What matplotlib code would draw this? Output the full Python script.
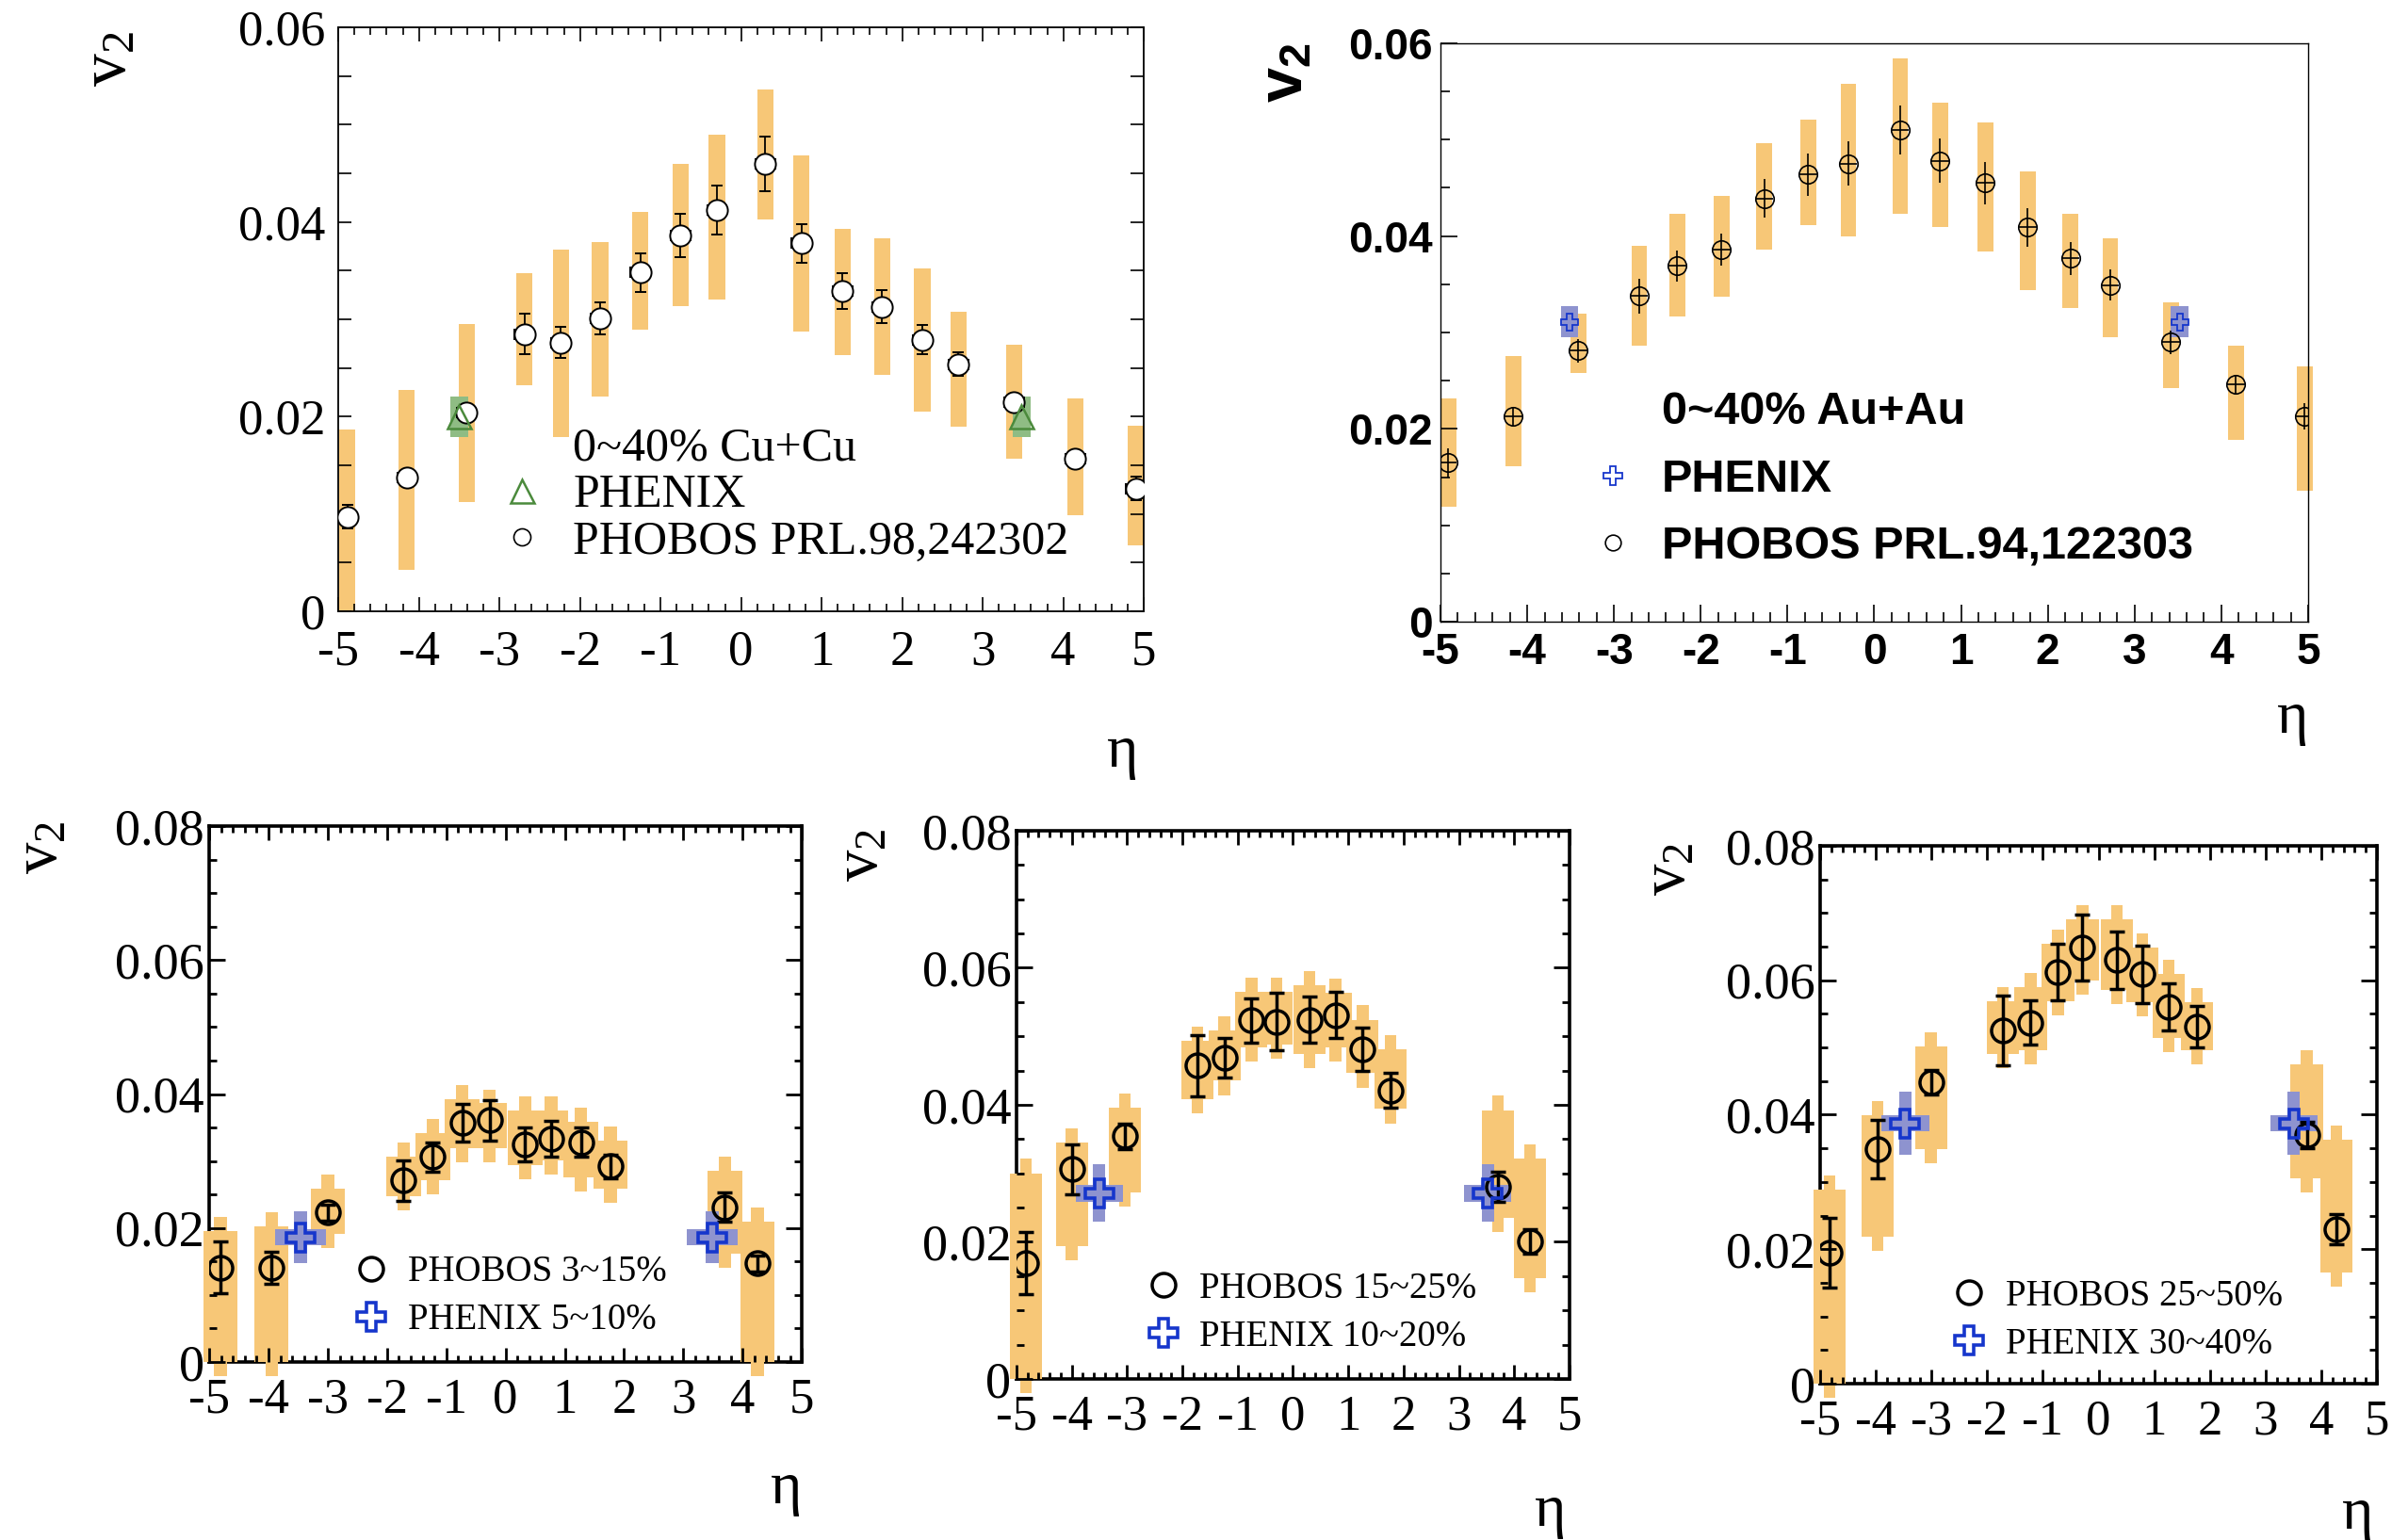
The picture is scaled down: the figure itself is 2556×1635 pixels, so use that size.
import matplotlib
matplotlib.use('Agg')
import matplotlib.pyplot as plt
from matplotlib.lines import Line2D
from matplotlib.ticker import MultipleLocator
import numpy as np

plt.rcParams['axes.unicode_minus'] = False
plt.rcParams['mathtext.fontset'] = 'custom'
plt.rcParams['mathtext.rm'] = 'Liberation Serif'
plt.rcParams['mathtext.it'] = 'Liberation Serif:italic'
plt.rcParams['mathtext.bf'] = 'Liberation Sans:bold'
plt.rcParams['mathtext.sf'] = 'Liberation Sans'

# ---------------- data ----------------
x_ticks = [-5, -4, -3, -2, -1, 0, 1, 2, 3, 4, 5]
x_tick_labels = ['-5', '-4', '-3', '-2', '-1', '0', '1', '2', '3', '4', '5']
y_ticks_top = [0, 0.02, 0.04, 0.06]
y_tick_labels_top = ['0', '0.02', '0.04', '0.06']
y_ticks_bot = [0, 0.02, 0.04, 0.06, 0.08]
y_tick_labels_bot = ['0', '0.02', '0.04', '0.06', '0.08']

# Panel 1: 0~40% Cu+Cu
cu_eta = [-4.89, -4.15, -3.41, -2.69, -2.24, -1.75, -1.25, -0.75, -0.30,
          0.30, 0.75, 1.26, 1.75, 2.25, 2.70, 3.39, 4.15, 4.90]
cu_v2 = [0.0097, 0.0137, 0.0204, 0.0285, 0.0276, 0.0301, 0.0348, 0.0386, 0.0412,
         0.0460, 0.0378, 0.0329, 0.0313, 0.0279, 0.0254, 0.0215, 0.0157, 0.0126]
cu_stat = [0.0012, 0.0005, 0.0005, 0.0021, 0.0016, 0.0016, 0.0020, 0.0022, 0.0025,
           0.0028, 0.0020, 0.0018, 0.0017, 0.0015, 0.0012, 0.0004, 0.0004, 0.0012]
cu_sys_lo = [0.0, 0.0043, 0.0112, 0.0232, 0.0179, 0.0221, 0.0289, 0.0314, 0.0320,
             0.0403, 0.0287, 0.0263, 0.0243, 0.0205, 0.0190, 0.0157, 0.0099, 0.0068]
cu_sys_hi = [0.0187, 0.0227, 0.0295, 0.0347, 0.0372, 0.0379, 0.0410, 0.0460, 0.0490,
             0.0536, 0.0468, 0.0393, 0.0383, 0.0352, 0.0308, 0.0274, 0.0219, 0.0191]
cu_phenix_eta = [-3.50, 3.48]
cu_phenix_v2 = [0.0200, 0.0200]
cu_phenix_err = [0.0021, 0.0021]

# Panel 2: 0~40% Au+Au
au_eta = [-4.91, -4.16, -3.41, -2.71, -2.27, -1.76, -1.27, -0.76, -0.30,
          0.30, 0.76, 1.28, 1.77, 2.26, 2.72, 3.42, 4.17, 4.96]
au_v2 = [0.0165, 0.0213, 0.0281, 0.0338, 0.0369, 0.0386, 0.0439, 0.0464, 0.0475,
         0.0510, 0.0478, 0.0455, 0.0409, 0.0377, 0.0349, 0.0290, 0.0246, 0.0213]
au_stat = [0.0015, 0.0010, 0.0012, 0.0018, 0.0016, 0.0017, 0.0020, 0.0022, 0.0023,
           0.0025, 0.0023, 0.0022, 0.0020, 0.0017, 0.0016, 0.0012, 0.0010, 0.0014]
au_sys_lo = [0.0119, 0.0161, 0.0258, 0.0286, 0.0317, 0.0337, 0.0386, 0.0411, 0.0400,
             0.0423, 0.0409, 0.0384, 0.0344, 0.0325, 0.0295, 0.0242, 0.0189, 0.0136]
au_sys_hi = [0.0232, 0.0276, 0.0320, 0.0390, 0.0423, 0.0442, 0.0496, 0.0521, 0.0558,
             0.0584, 0.0538, 0.0518, 0.0467, 0.0423, 0.0398, 0.0331, 0.0286, 0.0265]
au_phenix_eta = [-3.51, 3.52]
au_phenix_v2 = [0.0311, 0.0311]
au_phenix_err = [0.0016, 0.0016]

# Panel 3: PHOBOS 3~15%, PHENIX 5~10%
c1_eta = [-4.81, -3.95, -3.00, -1.72, -1.23, -0.73, -0.27, 0.33, 0.77, 1.27, 1.77, 3.70, 4.25]
c1_v2 = [0.0141, 0.0141, 0.0223, 0.0271, 0.0306, 0.0357, 0.0361, 0.0325, 0.0333, 0.0328, 0.0292, 0.0231, 0.0147]
c1_stat = [0.0039, 0.0024, 0.0012, 0.0030, 0.0022, 0.0028, 0.0030, 0.0025, 0.0027, 0.0022, 0.0018, 0.0022, 0.0012]
c1_sys_lo = [0.0, 0.0, 0.0191, 0.0248, 0.0271, 0.0319, 0.0319, 0.0294, 0.0301, 0.0276, 0.0259, 0.0162, 0.0]
c1_sys_hi = [0.0196, 0.0203, 0.0259, 0.0306, 0.0342, 0.0392, 0.0386, 0.0376, 0.0376, 0.0358, 0.0330, 0.0285, 0.0209]
c1_phenix_eta = [-3.46, 3.49]
c1_phenix_v2 = [0.0186, 0.0186]
c1_phenix_err = [0.0039, 0.0039]

# Panel 4: PHOBOS 15~25%, PHENIX 10~20%
c2_eta = [-4.83, -4.00, -3.04, -1.73, -1.24, -0.75, -0.30, 0.30, 0.77, 1.26, 1.76, 3.70, 4.28]
c2_v2 = [0.0169, 0.0306, 0.0354, 0.0457, 0.0469, 0.0523, 0.0521, 0.0524, 0.0531, 0.0481, 0.0421, 0.0281, 0.0201]
c2_stat = [0.0046, 0.0036, 0.0018, 0.0045, 0.0029, 0.0032, 0.0042, 0.0034, 0.0034, 0.0031, 0.0025, 0.0022, 0.0018]
c2_sys_lo = [0.0, 0.0194, 0.0272, 0.0408, 0.0435, 0.0484, 0.0488, 0.0474, 0.0484, 0.0446, 0.0394, 0.0235, 0.0147]
c2_sys_hi = [0.0300, 0.0345, 0.0396, 0.0493, 0.0508, 0.0565, 0.0565, 0.0574, 0.0563, 0.0524, 0.0481, 0.0392, 0.0321]
c2_phenix_eta = [-3.50, 3.52]
c2_phenix_v2 = [0.0271, 0.0271]
c2_phenix_err = [0.0042, 0.0042]

# Panel 5: PHOBOS 25~50%, PHENIX 30~40%
c3_eta = [-4.83, -3.97, -3.01, -1.72, -1.22, -0.73, -0.29, 0.33, 0.79, 1.26, 1.77, 3.74, 4.27]
c3_v2 = [0.0195, 0.0349, 0.0448, 0.0525, 0.0537, 0.0612, 0.0648, 0.0630, 0.0609, 0.0560, 0.0531, 0.0370, 0.0230]
c3_stat = [0.0052, 0.0043, 0.0018, 0.0052, 0.0033, 0.0042, 0.0049, 0.0043, 0.0043, 0.0035, 0.0031, 0.0020, 0.0022]
c3_sys_lo = [0.0, 0.0218, 0.0349, 0.0491, 0.0496, 0.0569, 0.0599, 0.0585, 0.0567, 0.0514, 0.0496, 0.0306, 0.0165]
c3_sys_hi = [0.0289, 0.0399, 0.0502, 0.0569, 0.0590, 0.0654, 0.0691, 0.0691, 0.0649, 0.0609, 0.0567, 0.0475, 0.0363]
c3_phenix_eta = [-3.47, 3.51]
c3_phenix_v2 = [0.0387, 0.0387]
c3_phenix_err = [0.0047, 0.0047]

# ---------------- style ----------------
ORANGE = '#F7C777'
LAV = '#8E93CF'
BLUE = '#1636CC'
GREEN = '#4B8A3C'
GREEN_BOX = '#8FBC84'
SERIF = 'Liberation Serif'
SANS = 'Liberation Sans'

fig = plt.figure(figsize=(25.56, 16.35), dpi=100)

# ================= Panel 1 =================
ax1 = fig.add_axes([0.1405, 0.603, 0.3345, 0.3793])
lo = np.array(cu_sys_lo); hi = np.array(cu_sys_hi)
ax1.bar(cu_eta, hi - lo, bottom=lo, width=0.2, color=ORANGE, zorder=1, linewidth=0)
pv = np.array(cu_phenix_v2); pe = np.array(cu_phenix_err)
ax1.bar(cu_phenix_eta, 2 * pe, bottom=pv - pe, width=0.22, color=GREEN_BOX, zorder=2, linewidth=0)
ax1.errorbar(cu_eta, cu_v2, yerr=cu_stat, xerr=0.12, fmt='o', ms=16, mfc='white', mec='black',
             mew=1.4, ecolor='black', elinewidth=1.3, capsize=4, capthick=1.3, zorder=3)
ax1.plot(cu_phenix_eta, cu_phenix_v2, linestyle='none', marker='^', ms=18, mfc='none',
         mec=GREEN, mew=1.8, zorder=4)
ax1.set_xlim(-5, 5)
ax1.set_ylim(0, 0.06)
ax1.set_xticks(x_ticks, labels=x_tick_labels, fontsize=38, fontfamily=SERIF)
ax1.set_yticks(y_ticks_top, labels=y_tick_labels_top, fontsize=38, fontfamily=SERIF)
ax1.xaxis.set_minor_locator(MultipleLocator(0.2))
ax1.yaxis.set_minor_locator(MultipleLocator(0.005))
ax1.tick_params(which='both', direction='in', top=True, right=True, width=1.2, color='black')
ax1.tick_params(axis='x', which='major', length=11, pad=14)
ax1.tick_params(axis='x', which='minor', length=5.5)
ax1.tick_params(axis='y', which='both', length=10, pad=10)
for s in ax1.spines.values():
    s.set_linewidth(1.3)
h1 = [Line2D([], [], linestyle='none', marker='none'),
      Line2D([], [], linestyle='none', marker='^', ms=18, mfc='none', mec=GREEN, mew=1.8),
      Line2D([], [], linestyle='none', marker='o', ms=13, mfc='none', mec='black', mew=1.2)]
ax1.legend(h1, ['0~40% Cu+Cu', 'PHENIX', 'PHOBOS PRL.98,242302'], loc='upper left',
           bbox_to_anchor=(0.199, 0.3155), borderaxespad=0, borderpad=0, frameon=False,
           prop={'family': SERIF, 'size': 36}, handlelength=1.0, handletextpad=0.58,
           labelspacing=0.06)
fig.text(0.0445, 0.962, r'$\mathrm{v}_{\mathrm{2}}$', rotation=90, ha='center', va='center', fontsize=50)
fig.text(0.4663, 0.5113, 'η', ha='center', va='center', fontsize=46, fontfamily=SERIF)

# ================= Panel 2 =================
ax2 = fig.add_axes([0.5982, 0.5963, 0.3603, 0.3756])
lo = np.array(au_sys_lo); hi = np.array(au_sys_hi)
ax2.bar(au_eta, hi - lo, bottom=lo, width=0.18, color=ORANGE, zorder=1, linewidth=0, clip_on=False)
pv = np.array(au_phenix_v2); pe = np.array(au_phenix_err)
ax2.bar(au_phenix_eta, 2 * pe, bottom=pv - pe, width=0.2, color=LAV, zorder=2, linewidth=0)
ax2.errorbar(au_eta, au_v2, yerr=au_stat, xerr=0.1, fmt='o', ms=14, mfc='none', mec='black',
             mew=1.2, ecolor='black', elinewidth=1.2, capsize=0, zorder=3)
ax2.plot(au_phenix_eta, au_phenix_v2, linestyle='none', marker='P', ms=13, mfc='none',
         mec=BLUE, mew=1.3, zorder=4)
ax2.set_xlim(-5, 5)
ax2.set_ylim(0, 0.06)
ax2.set_xticks(x_ticks, labels=x_tick_labels, fontsize=33, fontfamily=SANS, fontweight='bold')
ax2.set_yticks(y_ticks_top, labels=y_tick_labels_top, fontsize=33, fontfamily=SANS, fontweight='bold')
ax2.xaxis.set_minor_locator(MultipleLocator(0.2))
ax2.yaxis.set_minor_locator(MultipleLocator(0.005))
ax2.tick_params(which='both', direction='in', top=False, right=False, width=1.2, color='black')
ax2.tick_params(which='major', length=13)
ax2.tick_params(which='minor', length=7)
ax2.tick_params(axis='x', which='major', pad=8)
ax2.tick_params(axis='y', which='major', pad=6)
for s in ax2.spines.values():
    s.set_linewidth(1.0)
h2 = [Line2D([], [], linestyle='none', marker='none'),
      Line2D([], [], linestyle='none', marker='P', ms=14, mfc='none', mec=BLUE, mew=1.3),
      Line2D([], [], linestyle='none', marker='o', ms=12, mfc='none', mec='black', mew=1.2)]
ax2.legend(h2, ['0~40% Au+Au', 'PHENIX', 'PHOBOS PRL.94,122303'], loc='upper left',
           bbox_to_anchor=(0.172, 0.399), borderaxespad=0, borderpad=0, frameon=False,
           prop={'family': SANS, 'size': 35, 'weight': 'bold'}, handlelength=1.0,
           handletextpad=0.57, labelspacing=0.55)
fig.text(0.5337, 0.953, r'$\mathbf{v}_{\mathbf{2}}$', rotation=90, ha='center', va='center', fontsize=48)
fig.text(0.9522, 0.5333, 'η', ha='center', va='center', fontsize=46, fontfamily=SERIF)


# ================= bottom panels =================
def bottom_panel(rect, eta, v2, stat, slo, shi, peta, pv2, perr, lab_phobos, lab_phenix,
                 leg_anchor, ylab_pos, eta_pos):
    ax = fig.add_axes(rect)
    slo = np.array(slo); shi = np.array(shi)
    ext = 0.0021
    ax.bar(eta, shi - slo, bottom=slo, width=0.58, color=ORANGE, zorder=1, linewidth=0, clip_on=False)
    ax.bar(eta, shi - slo + 2 * ext, bottom=slo - ext, width=0.21, color=ORANGE, zorder=1,
           linewidth=0, clip_on=False)
    pv2 = np.array(pv2); perr = np.array(perr)
    hh = 0.0012
    ax.bar(peta, 2 * hh, bottom=pv2 - hh, width=0.86, color=LAV, zorder=2, linewidth=0, clip_on=False)
    ax.bar(peta, 2 * perr, bottom=pv2 - perr, width=0.22, color=LAV, zorder=2, linewidth=0, clip_on=False)
    ax.errorbar(eta, v2, yerr=stat, fmt='o', ms=18, mfc='none', mec='black', mew=2.5,
                ecolor='black', elinewidth=2.5, capsize=6, capthick=2.5, zorder=3)
    ax.plot(peta, pv2, linestyle='none', marker='P', ms=22, mfc='none', mec=BLUE, mew=2.6, zorder=4)
    ax.set_xlim(-5, 5)
    ax.set_ylim(0, 0.08)
    ax.set_xticks(x_ticks, labels=x_tick_labels, fontsize=38, fontfamily=SERIF)
    ax.set_yticks(y_ticks_bot, labels=y_tick_labels_bot, fontsize=39, fontfamily=SERIF)
    ax.xaxis.set_minor_locator(MultipleLocator(0.2))
    ax.yaxis.set_minor_locator(MultipleLocator(0.005))
    ax.tick_params(which='both', direction='in', top=True, right=True, width=2.0, color='black')
    ax.tick_params(axis='x', which='major', length=11, pad=12)
    ax.tick_params(axis='x', which='minor', length=5)
    ax.tick_params(axis='y', which='major', length=12, pad=4)
    ax.tick_params(axis='y', which='minor', length=6)
    for s in ax.spines.values():
        s.set_linewidth(2.6)
        s.set_zorder(0.5)
    hnd = [Line2D([], [], linestyle='none', marker='o', ms=18, mfc='none', mec='black', mew=2.5),
           Line2D([], [], linestyle='none', marker='P', ms=22, mfc='none', mec=BLUE, mew=2.6)]
    ax.legend(hnd, [lab_phobos, lab_phenix], loc='upper left', bbox_to_anchor=leg_anchor,
              borderaxespad=0, borderpad=0, frameon=False, prop={'family': SERIF, 'size': 28},
              handlelength=1.0, handletextpad=0.5, labelspacing=0.36)
    fig.text(ylab_pos[0], ylab_pos[1], r'$\mathrm{v}_{\mathrm{2}}$', rotation=90, ha='center',
             va='center', fontsize=48)
    fig.text(eta_pos[0], eta_pos[1], 'η', ha='center', va='center', fontsize=46, fontfamily=SERIF)
    return ax


bottom_panel([0.0869, 0.1156, 0.2461, 0.348], c1_eta, c1_v2, c1_stat, c1_sys_lo, c1_sys_hi,
             c1_phenix_eta, c1_phenix_v2, c1_phenix_err, 'PHOBOS 3~15%', 'PHENIX 5~10%',
             (0.243, 0.1995), (0.0165, 0.4495), (0.3266, 0.033))
bottom_panel([0.4221, 0.1046, 0.2297, 0.356], c2_eta, c2_v2, c2_stat, c2_sys_lo, c2_sys_hi,
             c2_phenix_eta, c2_phenix_v2, c2_phenix_err, 'PHOBOS 15~25%', 'PHENIX 10~20%',
             (0.232, 0.196), (0.357, 0.4446), (0.644, 0.0185))
bottom_panel([0.7559, 0.1015, 0.2312, 0.3493], c3_eta, c3_v2, c3_stat, c3_sys_lo, c3_sys_hi,
             c3_phenix_eta, c3_phenix_v2, c3_phenix_err, 'PHOBOS 25~50%', 'PHENIX 30~40%',
             (0.234, 0.195), (0.6925, 0.4355), (0.979, 0.0165))

fig.savefig('out.png', dpi=100)
